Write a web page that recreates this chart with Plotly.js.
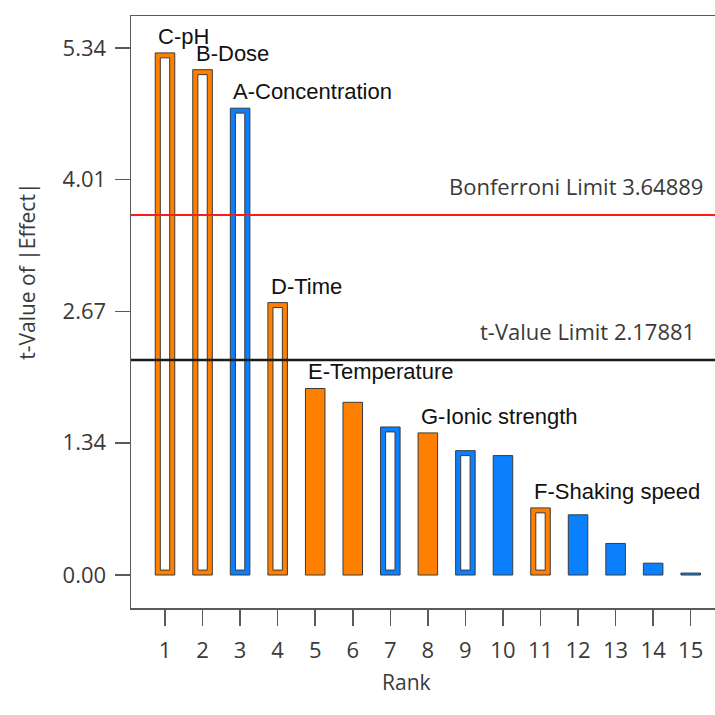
<!DOCTYPE html>
<html>
<head>
<meta charset="utf-8">
<script src="https://cdn.plot.ly/plotly-3.0.1.min.js"></script>
<style>html,body{margin:0;padding:0;background:#fff;}#chart{width:715px;height:715px;}</style>
</head>
<body>
<div id="chart"></div>
<script>
// ---- data ----
var ranks = [1,2,3,4,5,6,7,8,9,10,11,12,13,14,15];
var tValues = [5.29,5.12,4.73,2.76,1.89,1.75,1.50,1.44,1.26,1.21,0.68,0.61,0.32,0.12,0.02];
var effectSign = ["pos","pos","neg","pos","pos","pos","neg","pos","neg","neg","pos","neg","neg","neg","neg"];
var isModelTerm = [true,true,true,true,false,false,true,false,true,false,true,false,false,false,false];
var termLabels = ["C-pH","B-Dose","A-Concentration","D-Time","E-Temperature","","","G-Ionic strength","","","F-Shaking speed","","","",""];
var yTickVals = [0.00,1.34,2.67,4.01,5.34];
var bonferroniLimit = 3.64889;
var tValueLimit = 2.17881;

// ---- styles ----
var ORANGE = "#ff8000", BLUE = "#0a80ff", EDGE = "#3a3a3a";
var barW = 0.52, ringX = 0.135, ringY = 0.05;

var colors = effectSign.map(function(s){ return s === "pos" ? ORANGE : BLUE; });

var outer = {
  type: "bar", x: ranks, y: tValues, width: barW,
  marker: { color: colors, line: { color: EDGE, width: 1 } },
  hoverinfo: "x+y", showlegend: false
};

var hx = [], hy = [], hb = [];
ranks.forEach(function(r, i){
  if (isModelTerm[i]) { hx.push(r); hy.push(tValues[i] - 2*ringY); hb.push(ringY); }
});
var inner = {
  type: "bar", x: hx, y: hy, base: hb, width: barW - 2*ringX,
  marker: { color: "#ffffff", line: { color: EDGE, width: 1 } },
  hoverinfo: "skip", showlegend: false
};

var annotations = [];
ranks.forEach(function(r, i){
  if (termLabels[i]) {
    annotations.push({
      x: r - barW/2, y: tValues[i], xref: "x", yref: "y",
      xanchor: "left", yanchor: "bottom", yshift: 2, xshift: 1,
      text: termLabels[i], showarrow: false,
      font: { family: "Liberation Sans, Arial, sans-serif", size: 22, color: "#111" }
    });
  }
});
annotations.push({
  x: 0.983, y: bonferroniLimit, xref: "paper", yref: "y",
  xanchor: "right", yanchor: "bottom", yshift: 12,
  text: "Bonferroni Limit " + bonferroniLimit, showarrow: false,
  font: { family: "Open Sans, Noto Sans, sans-serif", size: 22, color: "#3a3a3a" }
});
annotations.push({
  x: 0.969, y: tValueLimit, xref: "paper", yref: "y",
  xanchor: "right", yanchor: "bottom", yshift: 12,
  text: "t-Value Limit " + tValueLimit, showarrow: false,
  font: { family: "Open Sans, Noto Sans, sans-serif", size: 22, color: "#3a3a3a" }
});
// axis titles
annotations.push({
  x: -0.178, y: 0.568, xref: "paper", yref: "paper", textangle: -90,
  xanchor: "center", yanchor: "middle",
  text: "t-Value of |Effect|", showarrow: false,
  font: { family: "Open Sans, Noto Sans, sans-serif", size: 21, color: "#3a3a3a" }
});
annotations.push({
  x: 0.472, y: -0.125, xref: "paper", yref: "paper",
  xanchor: "center", yanchor: "middle",
  text: "Rank", showarrow: false,
  font: { family: "Open Sans, Noto Sans, sans-serif", size: 21, color: "#3a3a3a" }
});

var layout = {
  width: 715, height: 715,
  margin: { l: 131, r: 0, t: 16, b: 107 },
  paper_bgcolor: "#ffffff", plot_bgcolor: "#ffffff",
  barmode: "overlay",
  xaxis: {
    range: [0.0945, 15.647], tickvals: ranks, ticktext: ranks.map(String),
    showgrid: false, zeroline: false, showline: true, mirror: true,
    linecolor: "#5a5a5a", linewidth: 1.5,
    ticks: "outside", ticklen: 16, tickwidth: 1.5, tickcolor: "#5a5a5a",
    ticklabelstandoff: 6,
    tickfont: { family: "Open Sans, Noto Sans, sans-serif", size: 22, color: "#3a3a3a" }
  },
  yaxis: {
    range: [-0.334, 5.664], tickvals: yTickVals,
    ticktext: yTickVals.map(function(v){ return v.toFixed(2); }),
    showgrid: false, zeroline: false, showline: true,
    linecolor: "#5a5a5a", linewidth: 1.5,
    ticks: "outside", ticklen: 15, tickwidth: 1.5, tickcolor: "#5a5a5a",
    ticklabelstandoff: 4,
    tickfont: { family: "Open Sans, Noto Sans, sans-serif", size: 22, color: "#3a3a3a" }
  },
  shapes: [
    { type: "line", xref: "paper", yref: "y", x0: 0, x1: 1, y0: bonferroniLimit, y1: bonferroniLimit,
      line: { color: "#ff1a1a", width: 2 } },
    { type: "line", xref: "paper", yref: "y", x0: 0, x1: 1, y0: tValueLimit, y1: tValueLimit,
      line: { color: "#1a1a1a", width: 2.5 } }
  ],
  annotations: annotations
};

Plotly.newPlot("chart", [outer, inner], layout, { displayModeBar: false, staticPlot: true });
</script>
</body>
</html>
